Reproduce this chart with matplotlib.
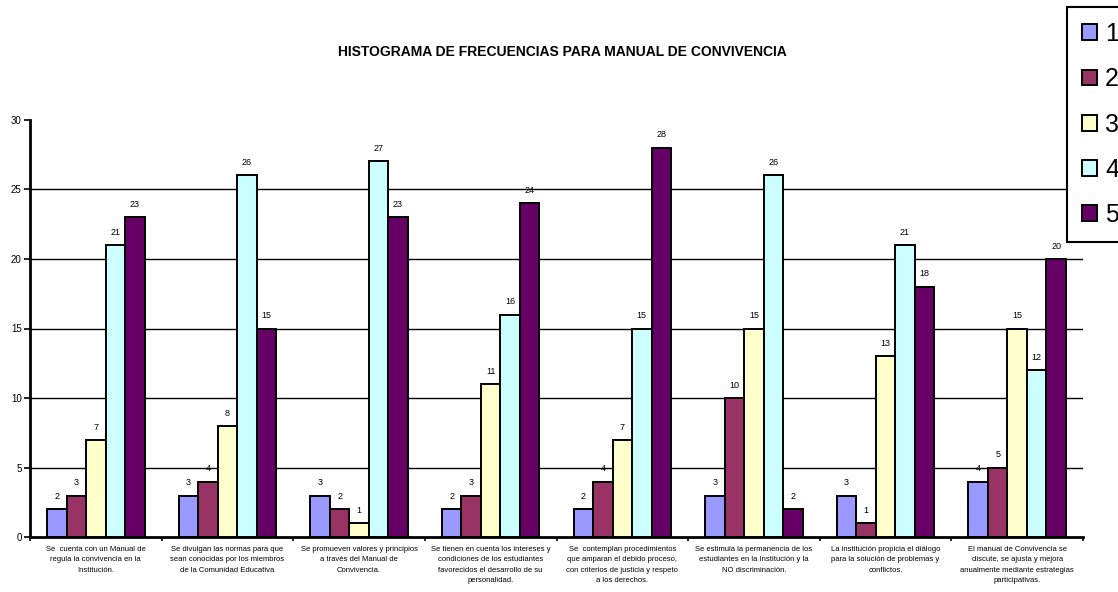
import numpy as np
import matplotlib
matplotlib.use("Agg")
import matplotlib.pyplot as plt
from matplotlib.patches import Patch

plt.rcParams['font.family'] = ['Liberation Sans', 'DejaVu Sans']

# datos
categorias = [
    "Se  cuenta con un Manual de\nregula la convivencia en la\nInstitución.",
    "Se divulgan las normas para que\nsean conocidas por los miembros\nde la Comunidad Educativa",
    "Se promueven valores y principios\na través del Manual de\nConvivencia.",
    "Se tienen en cuenta los intereses y\ncondiciones de los estudiantes\nfavorecidos el desarrollo de su\npersonalidad.",
    "Se  contemplan procedimientos\nque amparan el debido proceso,\ncon criterios de justicia y respeto\na los derechos.",
    "Se estimula la permanencia de los\nestudiantes en la Institución y la\nNO discriminación.",
    "La institución propicia el diálogo\npara la solución de problemas y\nconflictos.",
    "El manual de Convivencia se\ndiscute, se ajusta y mejora\nanualmente mediante estrategias\nparticipativas.",
]
series = ["1", "2", "3", "4", "5"]
v1 = [2, 3, 3, 2, 2, 3, 3, 4]
v2 = [3, 4, 2, 3, 4, 10, 1, 5]
v3 = [7, 8, 1, 11, 7, 15, 13, 15]
v4 = [21, 26, 27, 16, 15, 26, 21, 12]
v5 = [23, 15, 23, 24, 28, 2, 18, 20]
valores = [v1, v2, v3, v4, v5]
colores = ["#9999FF", "#993366", "#FFFFCC", "#CCFFFF", "#660066"]

fig = plt.figure(figsize=(11.18, 5.92), dpi=100)
ax = fig.add_axes([30/1118, 1-537.3/592, (1083-30)/1118, (537.3-119.7)/592])

x = np.arange(len(categorias)) + 0.5
w = 0.148
for i, (vals, c) in enumerate(zip(valores, colores)):
    bars = ax.bar(x + (i-2)*w, vals, w, color=c, edgecolor='black', linewidth=1.4, zorder=3)
    for b, v in zip(bars, vals):
        ax.annotate(str(v), (b.get_x()+b.get_width()/2, v), xytext=(0, 6),
                    textcoords='offset points', ha='center', va='bottom', fontsize=6.5)

ax.set_xlim(0, 8)
ax.set_ylim(0, 30)
ax.set_yticks(range(0, 31, 5))
ax.yaxis.grid(True, color='black', linewidth=1)
ax.get_ygridlines()[0].set_visible(False)
ax.get_ygridlines()[-1].set_visible(False)
ax.set_axisbelow(True)

ax.set_xticks(range(0, 9))
ax.set_xticklabels([])
ax.set_xticks(x, minor=True)
ax.set_xticklabels(categorias, minor=True, fontsize=5.5, linespacing=1.7, va='top')
ax.tick_params(axis='x', which='minor', length=0, pad=6)
ax.tick_params(axis='x', which='major', length=3, width=1.2, direction='out')
ax.tick_params(axis='y', length=4, width=1.2, labelsize=7, pad=2)

for s in ['top', 'right']:
    ax.spines[s].set_visible(False)
ax.spines['left'].set_linewidth(2)
ax.spines['bottom'].set_linewidth(2)

fig.text(562/1118, 1-52/592, "HISTOGRAMA DE FRECUENCIAS PARA MANUAL DE CONVIVENCIA",
         ha='center', va='center', fontsize=10, fontweight='bold')

handles = [Patch(facecolor=c, edgecolor='black', linewidth=1.4) for c in colores]
leg = fig.legend(handles, series, loc='upper left', bbox_to_anchor=(1067/1118, 1-7/592),
                 borderaxespad=0, fontsize=18, handlelength=0.6, handleheight=0.6,
                 handletextpad=0.32, labelspacing=0.85, borderpad=0.6, fancybox=False,
                 framealpha=1, edgecolor='black')
leg.get_frame().set_linewidth(1.5)

fig.savefig("out.png", dpi=100)
